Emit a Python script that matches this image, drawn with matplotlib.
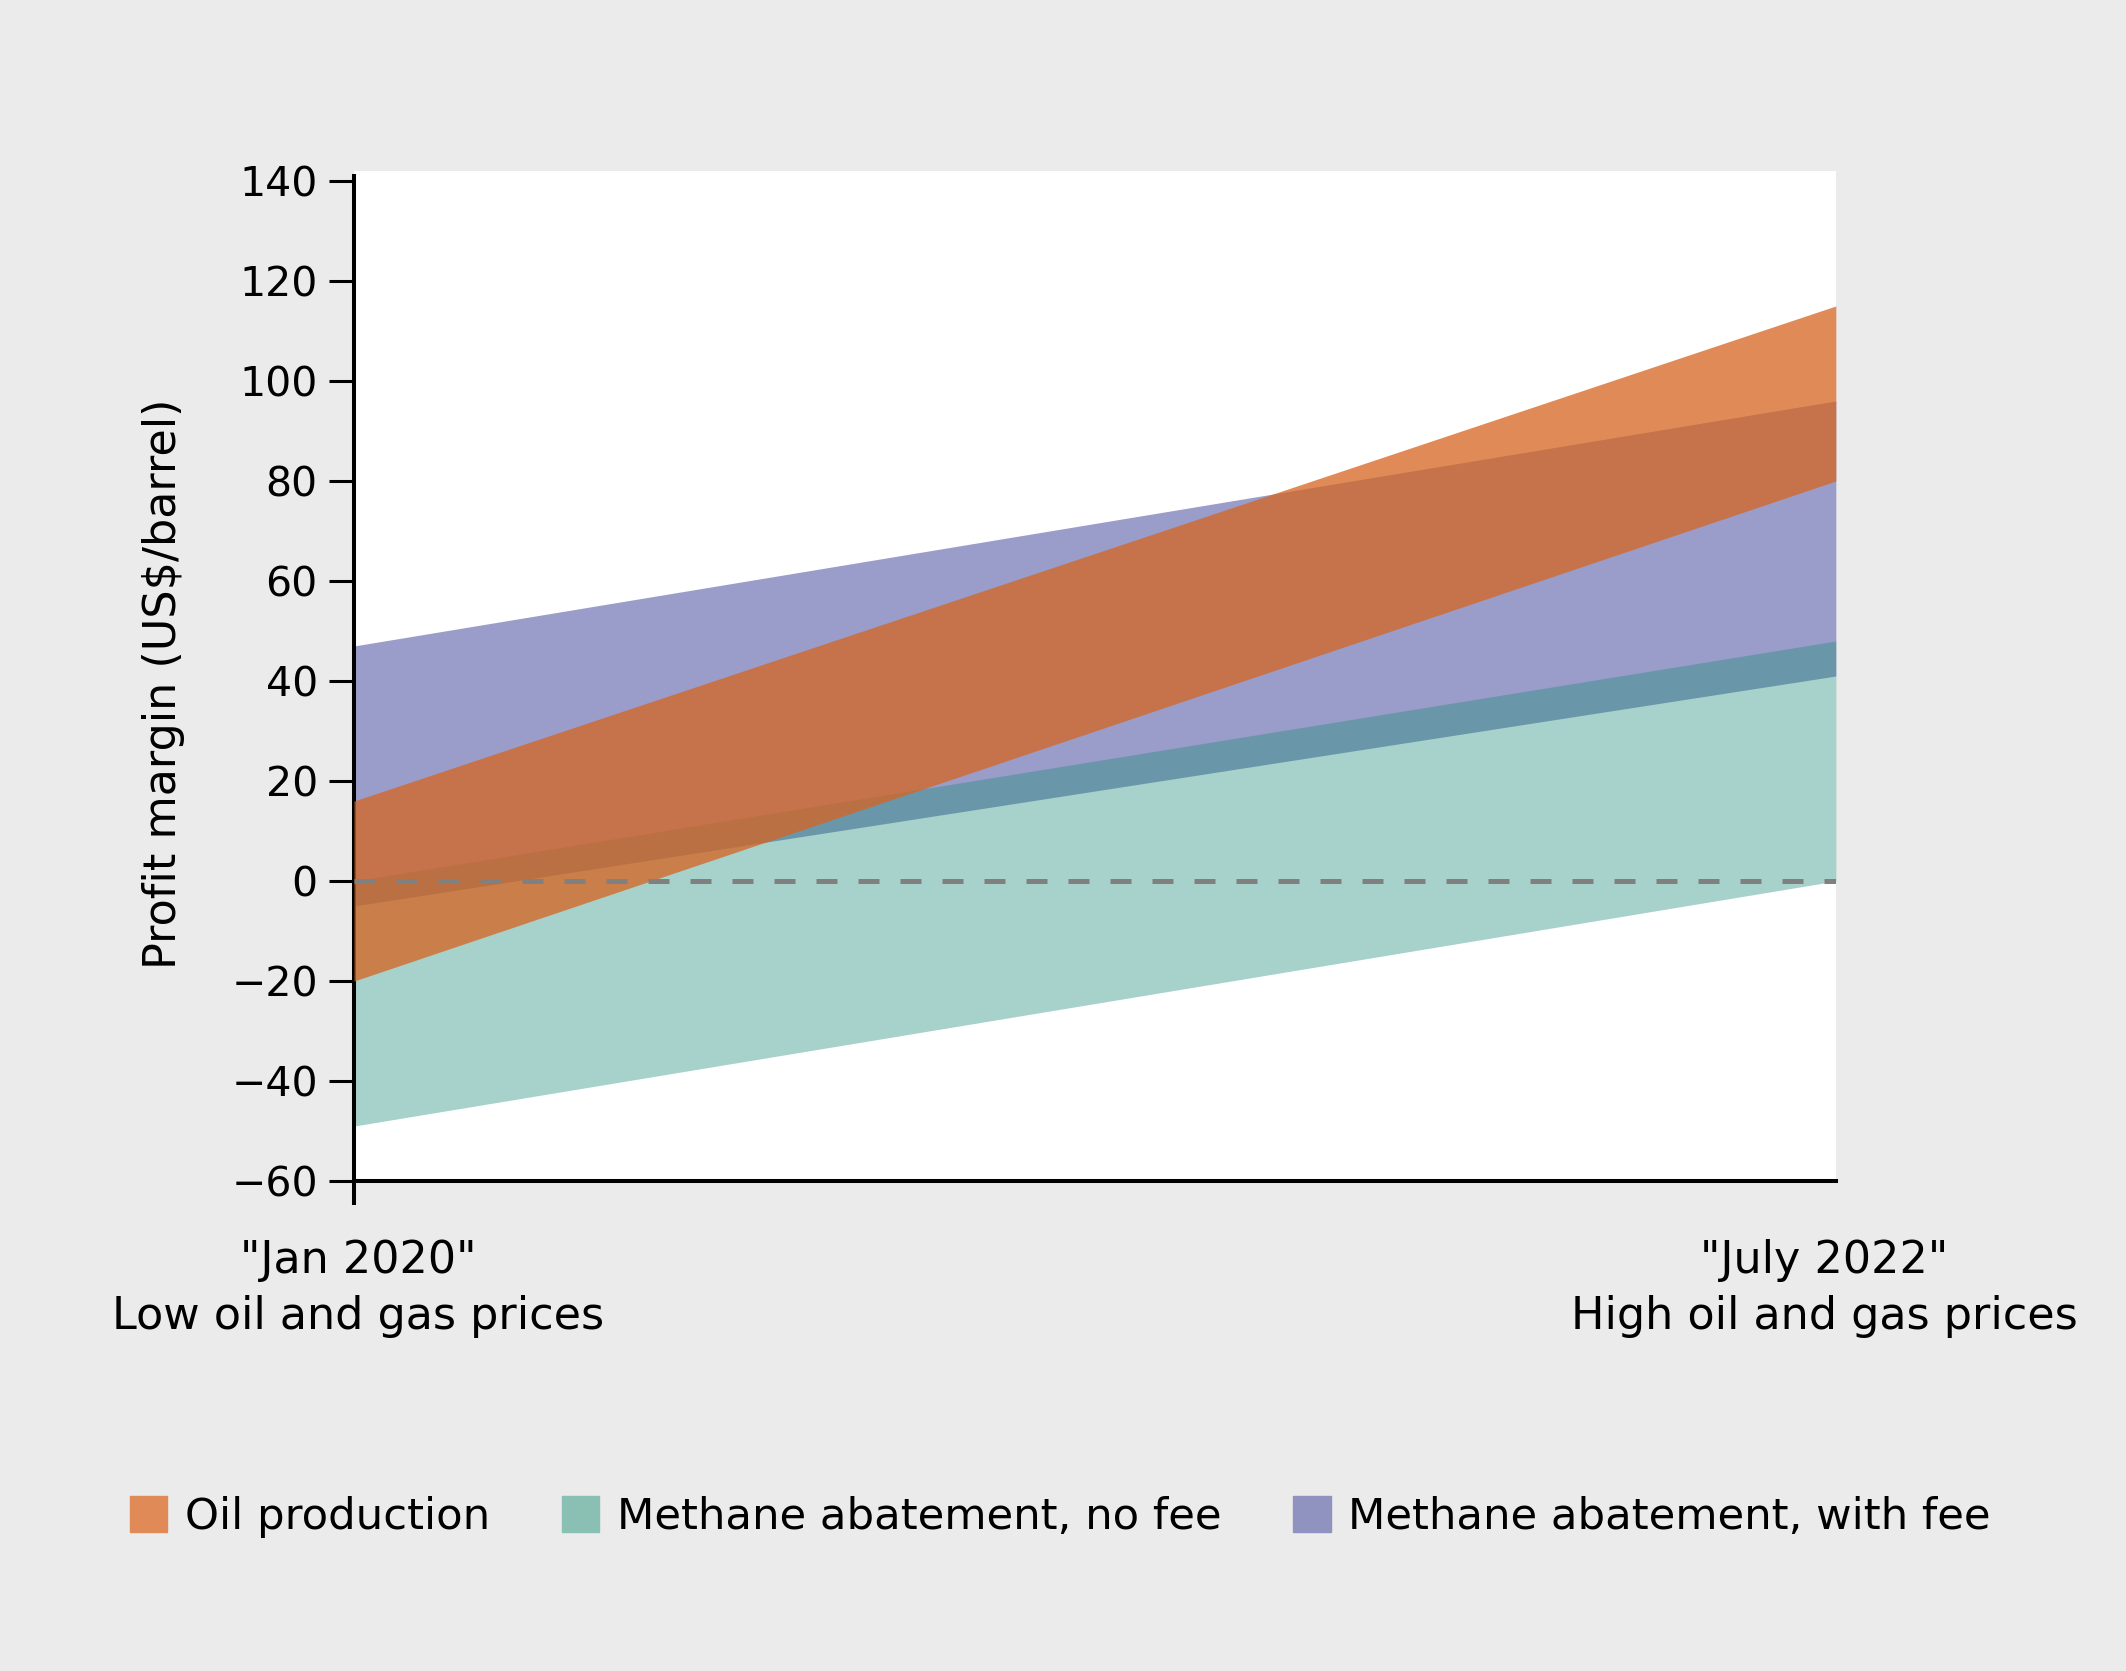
import matplotlib
matplotlib.use("Agg")
import matplotlib.pyplot as plt
from matplotlib.patches import Patch
import numpy as np

plt.rcParams['font.family'] = ['DejaVu Sans']

# two scenarios on the x axis
x = np.array([0.0, 1.0])
scenario_top = ['"Jan 2020"', '"July 2022"']
scenario_bottom = ['Low oil and gas prices', 'High oil and gas prices']

# band limits (US$/barrel) at each scenario
oil_low = np.array([-20, 80])
oil_high = np.array([16, 115])
nofee_low = np.array([-49, 0])
nofee_high = np.array([0, 48])
fee_low = np.array([-5, 41])
fee_high = np.array([47, 96])

labels = ['Oil production', 'Methane abatement, no fee', 'Methane abatement, with fee']
yticks = np.arange(-60, 141, 20)

fs = 32
bg = '#ebebeb'

fig = plt.figure(figsize=(21.26, 16.71), dpi=100, facecolor=bg)
ax = fig.add_axes([0.1665, 0.2932, 0.697, 0.6045])
ax.set_facecolor('white')

# purple first (opaque), teal translucent on top, oil on top of both
ax.fill_between(x, fee_low, fee_high, color='#9a9dc9', lw=0, zorder=1)
ax.fill_between(x, nofee_low, nofee_high, color='#238c7d', alpha=0.4, lw=0, zorder=2)
ax.fill_between(x, oil_low, oil_high, color='#d6641f', alpha=0.75, lw=0, zorder=3)

ax.plot([0, 1], [0, 0], color='#808080', lw=3.6, dashes=(4.2, 4.2), zorder=4)

ax.set_xlim(0, 1)
ax.set_ylim(-60, 142)
ax.set_yticks(yticks)
ax.tick_params(axis='y', labelsize=29.5, length=18, width=2.2, pad=8)
ax.set_xticks([0])
ax.set_xticklabels([''])
ax.tick_params(axis='x', length=17, width=2.9)
for s in ['top', 'right']:
    ax.spines[s].set_visible(False)
for s in ['left', 'bottom']:
    ax.spines[s].set_linewidth(2.9)
ax.spines['left'].set_bounds(-60, 141)

# scenario labels under the axis
for xi, t1, t2 in zip([0.003, 0.992], scenario_top, scenario_bottom):
    ax.annotate(t1 + '\n' + t2, xy=(xi, 0), xycoords=('data', 'axes fraction'),
                xytext=(0, -58), textcoords='offset pixels',
                ha='center', va='top', fontsize=fs, linespacing=1.38,
                multialignment='center', annotation_clip=False)

fig.text(0.0767, 0.591, 'Profit margin (US$/barrel)', rotation=90,
         ha='center', va='center', fontsize=fs)

handles = [Patch(color='#e08b57'), Patch(color='#8abfb4'), Patch(color='#9093c0')]
fig.legend(handles, labels, loc='center left', bbox_to_anchor=(0.061, 0.092),
           ncol=3, frameon=False, fontsize=31.2, handlelength=0.87, handleheight=0.9,
           handletextpad=0.4, columnspacing=1.66, borderpad=0, borderaxespad=0)

plt.savefig('out.png', dpi=100, facecolor=bg)
